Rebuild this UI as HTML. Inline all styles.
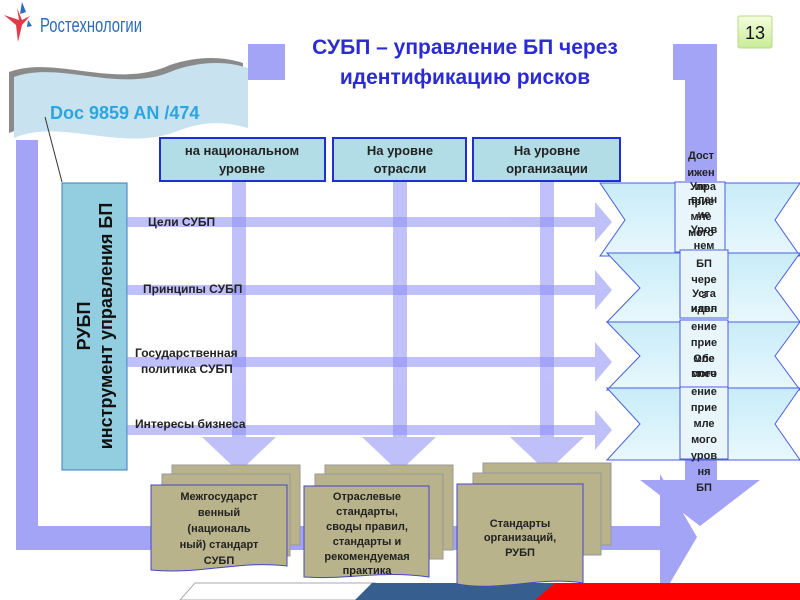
<!DOCTYPE html>
<html><head><meta charset="utf-8"><style>
html,body{margin:0;padding:0;background:#fff;}
svg{display:block;}
text{font-family:"Liberation Sans","DejaVu Sans",sans-serif;}
</style></head><body>
<svg width="800" height="600" viewBox="0 0 800 600" xmlns="http://www.w3.org/2000/svg">
<defs>
<linearGradient id="rib" x1="0" y1="0" x2="0" y2="1"><stop offset="0" stop-color="#c8ecf8"/><stop offset="1" stop-color="#e8f8fd"/></linearGradient>
<linearGradient id="g13" x1="0" y1="0" x2="0" y2="1"><stop offset="0" stop-color="#f4fde0"/><stop offset="1" stop-color="#c9ec95"/></linearGradient>
</defs>
<!-- logo -->
<rect x="0" y="0" width="143" height="48" fill="#fff"/>
<polygon points="4,15 19,20 17,8 22,20 30,16 22,25 18,42 16,25" fill="#e23a48"/>
<polygon points="22,2 26,12 20,14" fill="#2a6cc0"/>
<polygon points="28,20 32,26 27,27" fill="#2a6cc0"/>
<text x="40" y="32" font-size="20" fill="#2a6cb8" textLength="102" lengthAdjust="spacingAndGlyphs">Ростехнологии</text>
<!-- 13 -->
<rect x="738" y="16" width="34" height="32" rx="2" fill="url(#g13)" stroke="#b9d98a"/>
<text x="755" y="39" font-size="18" text-anchor="middle" fill="#111">13</text>
<!-- title -->
<text x="465" y="54" font-size="21" font-weight="bold" text-anchor="middle" fill="#2b2bd6">СУБП – управление БП через</text>
<text x="465" y="84" font-size="21" font-weight="bold" text-anchor="middle" fill="#2b2bd6">идентификацию рисков</text>
<!-- frame -->
<g fill="#a4a4f6">
<rect x="248" y="44" width="37" height="36"/>
<rect x="673" y="44" width="44" height="36"/>
<rect x="685" y="44" width="32" height="440"/>
<polygon points="640,480 760,480 700,526"/>
<rect x="16" y="140" width="22" height="410"/>
<rect x="16" y="526" width="650" height="24"/>
<polygon points="660,474 697,537 660,600"/>
</g>
<!-- banner -->
<path d="M14,77 C60,60 120,95 175,70 C205,60 230,62 248,68 L248,128 C220,120 200,122 175,132 C120,152 60,118 14,138 Z" fill="#6d6d6d" opacity="0.8" transform="translate(-5,-5)"/>
<path d="M14,77 C60,60 120,95 175,70 C205,60 230,62 248,68 L248,128 C220,120 200,122 175,132 C120,152 60,118 14,138 Z" fill="#c8e2f0"/>
<text x="50" y="119" font-size="18" font-weight="bold" fill="#2ba5e0">Doc 9859 AN /474</text>
<line x1="45" y1="117" x2="62" y2="182" stroke="#333" stroke-width="1"/>
<!-- RUBP box -->
<rect x="62" y="183" width="65" height="287" fill="#93cee0" stroke="#3a7cb8"/>
<text transform="translate(90,326) rotate(-90)" font-size="18" font-weight="bold" text-anchor="middle" fill="#111">РУБП</text>
<text transform="translate(112,326) rotate(-90)" font-size="18" font-weight="bold" text-anchor="middle" fill="#111">инструмент  управления БП</text>
<!-- vertical lines -->
<g fill="#8c8cf5" opacity="0.55">
<rect x="232" y="181" width="14" height="280"/>
<polygon points="202,437 276,437 239,472"/>
<rect x="393" y="181" width="14" height="280"/>
<polygon points="362,437 436,437 399,472"/>
<rect x="540" y="181" width="14" height="280"/>
<polygon points="510,437 584,437 547,472"/>
</g>
<!-- horizontal arrows -->
<g fill="#8c8cf5" opacity="0.55">
<rect x="127" y="217" width="470" height="10"/><polygon points="595,202 612,222 595,242"/>
<rect x="127" y="285" width="470" height="10"/><polygon points="595,270 612,290 595,310"/>
<rect x="127" y="357" width="470" height="10"/><polygon points="595,342 612,362 595,382"/>
<rect x="127" y="425" width="470" height="10"/><polygon points="595,410 612,430 595,450"/>
</g>
<g font-size="12" font-weight="bold" fill="#222">
<text x="148" y="226">Цели  СУБП</text>
<text x="143" y="293">Принципы СУБП</text>
<text x="135" y="357">Государственная</text>
<text x="141" y="373">политика СУБП</text>
<text x="135" y="428">Интересы бизнеса</text>
</g>
<!-- header boxes -->
<g fill="#b3dde6" stroke="#2030d0" stroke-width="2">
<rect x="160" y="138" width="165" height="43"/>
<rect x="333" y="138" width="133" height="43"/>
<rect x="473" y="138" width="147" height="43"/>
</g>
<g font-size="13" font-weight="bold" fill="#222" text-anchor="middle">
<text x="242" y="155">на национальном</text><text x="242" y="173">уровне</text>
<text x="400" y="155">На уровне</text><text x="400" y="173">отрасли</text>
<text x="547" y="155">На уровне</text><text x="547" y="173">организации</text>
</g>
<!-- ribbons -->
<g fill="url(#rib)" stroke="#4a5ee0" stroke-width="1">
<polygon points="600,183 800,183 775,220 800,256 600,256 625,220"/>
<polygon points="607,253 800,253 775,288 800,322 607,322 640,288"/>
<polygon points="607,322 800,322 775,356 800,390 607,390 640,356"/>
<polygon points="607,388 800,388 775,424 800,460 607,460 640,424"/>
</g>
<g fill="#e8f6fc" stroke="#4a5ee0" stroke-width="1">
<rect x="675" y="182" width="50" height="70"/>
<rect x="680" y="250" width="48" height="68"/>
<rect x="680" y="320" width="48" height="67"/>
<rect x="680" y="387" width="48" height="72"/>
</g>
<rect x="685" y="140" width="32" height="42" fill="#a4a4f6"/>
<g font-size="11" font-weight="bold" fill="#222" text-anchor="middle">
<text x="701" y="159">Дост</text><text x="701" y="176">ижен</text>
<text x="701" y="190">ие</text><text x="703" y="190">Упра</text>
<text x="701" y="205">прие</text><text x="704" y="203">влен</text>
<text x="701" y="220">мле</text><text x="704" y="218">ие</text>
<text x="701" y="236">мого</text><text x="704" y="233">Уров</text>
<text x="704" y="249">нем</text>
<text x="704" y="267">БП</text><text x="704" y="283">чере</text>
<text x="704" y="297">Уста</text><text x="704" y="298">з</text>
<text x="704" y="312">иден</text><text x="704" y="312">навл</text>
<text x="704" y="330">ение</text><text x="704" y="346">прие</text>
<text x="704" y="362">Обе</text><text x="704" y="362">мле</text>
<text x="704" y="377">спеч</text><text x="704" y="377">мого</text>
<text x="704" y="395">ение</text><text x="704" y="411">прие</text>
<text x="704" y="427">мле</text><text x="704" y="443">мого</text>
<text x="704" y="459">уров</text><text x="704" y="475">ня</text>
<text x="704" y="491">БП</text>
</g>
<!-- tricolor -->
<polygon points="195,583 375,583 358,600 180,600" fill="#fff" stroke="#aaa"/>
<polygon points="372,583 560,583 540,600 355,600" fill="#365f90"/>
<polygon points="555,583 800,583 800,600 535,600" fill="#f00"/>
<!-- doc stacks -->
<g stroke="#999" stroke-width="1" fill="#b8b38a">
<rect x="172" y="465" width="128" height="80"/><rect x="162" y="474" width="128" height="82"/>
<rect x="325" y="465" width="128" height="85"/><rect x="315" y="474" width="128" height="85"/>
<rect x="483" y="463" width="128" height="82"/><rect x="473" y="473" width="128" height="82"/>
</g>
<g stroke="#4646c8" stroke-width="1" fill="#b8b38a">
<path d="M151,485 L287,485 L287,566 C240,560 200,575 151,570 Z"/>
<path d="M304,486 L429,486 L429,577 C380,570 350,580 304,577 Z"/>
<path d="M457,484 L583,484 L583,583 C540,576 500,592 457,584 Z"/>
</g>
<g font-size="11" font-weight="bold" fill="#222" text-anchor="middle">
<text x="219" y="500">Межгосударст</text><text x="219" y="516">венный</text>
<text x="219" y="532">(националь</text><text x="219" y="548">ный) стандарт</text><text x="219" y="564">СУБП</text>
<text x="367" y="500">Отраслевые</text><text x="367" y="515">стандарты,</text>
<text x="367" y="530">своды правил,</text><text x="367" y="545">стандарты и</text>
<text x="367" y="560">рекомендуемая</text><text x="367" y="574">практика</text>
<text x="520" y="527">Стандарты</text><text x="520" y="541">организаций,</text><text x="520" y="556">РУБП</text>
</g>
</svg>
</body></html>
